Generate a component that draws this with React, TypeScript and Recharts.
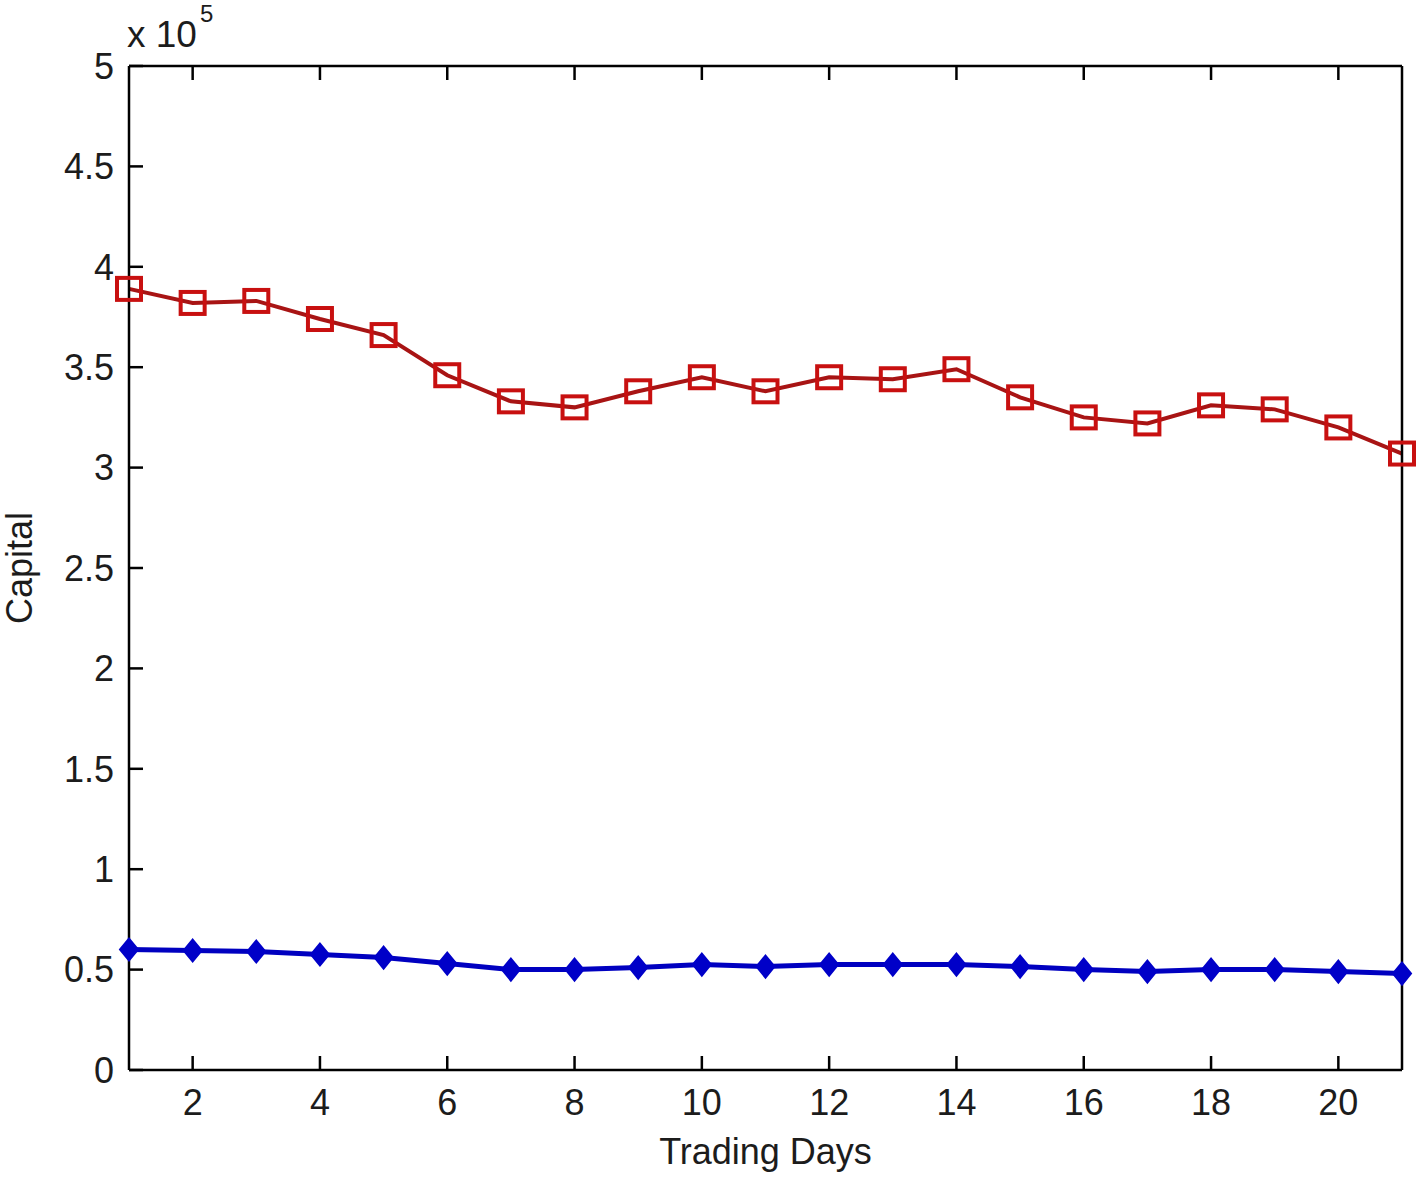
import React from "react";
import { LineChart, Line, XAxis, YAxis, Label } from "recharts";

const days = [1, 2, 3, 4, 5, 6, 7, 8, 9, 10, 11, 12, 13, 14, 15, 16, 17, 18, 19, 20, 21];
const upperCapital = [
  389000, 382000, 383000, 374000, 366000, 346000, 333000, 330000, 338000, 345000, 338000,
  345000, 344000, 349000, 335000, 325000, 322000, 331000, 329000, 320000, 307000,
];
const lowerCapital = [
  60000, 59500, 59000, 57500, 56000, 53000, 50000, 50000, 51000, 52500, 51500,
  52500, 52500, 52500, 51500, 50000, 49000, 50000, 50000, 49000, 48000,
];
const xTicks = [2, 4, 6, 8, 10, 12, 14, 16, 18, 20];
const yTicks = [0, 50000, 100000, 150000, 200000, 250000, 300000, 350000, 400000, 450000, 500000];

const data = days.map((d, i) => ({ day: d, upper: upperCapital[i], lower: lowerCapital[i] }));

const FONT = "'Liberation Sans', Arial, sans-serif";
const TXT = "#1c1c1c";
const FS = 36;
const tickStyle = { fontSize: FS, fill: TXT, fontFamily: FONT };
const axisLine = { stroke: "#000", strokeWidth: 2.5 };
const tickLine = { stroke: "#000", strokeWidth: 2.5 };

// open square marker, MATLAB 's'
const SquareDot = (props: any) => {
  const { cx, cy } = props;
  if (cx == null || cy == null) return null;
  return (
    <rect x={cx - 12} y={cy - 11} width={24} height={22} fill="none" stroke="#c81010" strokeWidth={4} />
  );
};

// filled diamond marker
const DiamondDot = (props: any) => {
  const { cx, cy } = props;
  if (cx == null || cy == null) return null;
  return (
    <path
      d={`M${cx},${cy - 11} L${cx + 9},${cy} L${cx},${cy + 11} L${cx - 9},${cy} Z`}
      fill="#0000c8"
      stroke="#0000c8"
      strokeWidth={2}
    />
  );
};

const blankTick = () => <g />;

export default function App() {
  return (
    <div style={{ position: "absolute", left: 0, top: 0, width: 1418, height: 1177, background: "#fff" }}>
      <LineChart width={1418} height={1177} data={data} margin={{ top: 65, right: 15, bottom: 0, left: 0 }}>
        <XAxis
          dataKey="day"
          type="number"
          domain={[1, 21]}
          ticks={xTicks}
          height={107}
          axisLine={axisLine}
          tickLine={tickLine}
          tickSize={-14}
          tickMargin={33}
          tick={tickStyle}
        >
          <Label
            content={(p: any) => (
              <text
                x={p.viewBox.x + p.viewBox.width / 2}
                y={p.viewBox.y + 94}
                textAnchor="middle"
                fontSize={FS}
                fontFamily={FONT}
                fill={TXT}
              >
                Trading Days
              </text>
            )}
          />
        </XAxis>
        <XAxis
          xAxisId="top"
          orientation="top"
          dataKey="day"
          type="number"
          domain={[1, 21]}
          ticks={xTicks}
          height={1}
          axisLine={axisLine}
          tickLine={tickLine}
          tickSize={-14}
          tick={blankTick}
        >
          <Label
            content={(p: any) => (
              <text x={p.viewBox.x - 2} y={p.viewBox.y - 18} fontSize={37} fontFamily={FONT} fill={TXT}>
                x 10
                <tspan fontSize={24} dx={3} dy={-25}>5</tspan>
              </text>
            )}
          />
        </XAxis>
        <YAxis
          type="number"
          domain={[0, 500000]}
          ticks={yTicks}
          width={129}
          axisLine={axisLine}
          tickLine={tickLine}
          tickSize={-14}
          tickMargin={29}
          tick={tickStyle}
          tickFormatter={(v: number) => String(v / 100000)}
        >
          <Label
            content={(p: any) => {
              const x = p.viewBox.x + 32;
              const y = p.viewBox.y + p.viewBox.height / 2;
              return (
                <text
                  x={x}
                  y={y}
                  transform={`rotate(-90 ${x} ${y})`}
                  textAnchor="middle"
                  fontSize={FS}
                  fontFamily={FONT}
                  fill={TXT}
                >
                  Capital
                </text>
              );
            }}
          />
        </YAxis>
        <YAxis
          yAxisId="right"
          orientation="right"
          type="number"
          domain={[0, 500000]}
          ticks={yTicks}
          width={1}
          axisLine={axisLine}
          tickLine={tickLine}
          tickSize={-14}
          tick={blankTick}
        />
        <Line
          dataKey="upper"
          stroke="#a81414"
          strokeWidth={4}
          dot={<SquareDot />}
          activeDot={false}
          isAnimationActive={false}
        />
        <Line
          dataKey="lower"
          stroke="#0000c0"
          strokeWidth={5}
          dot={<DiamondDot />}
          activeDot={false}
          isAnimationActive={false}
        />
      </LineChart>
    </div>
  );
}
